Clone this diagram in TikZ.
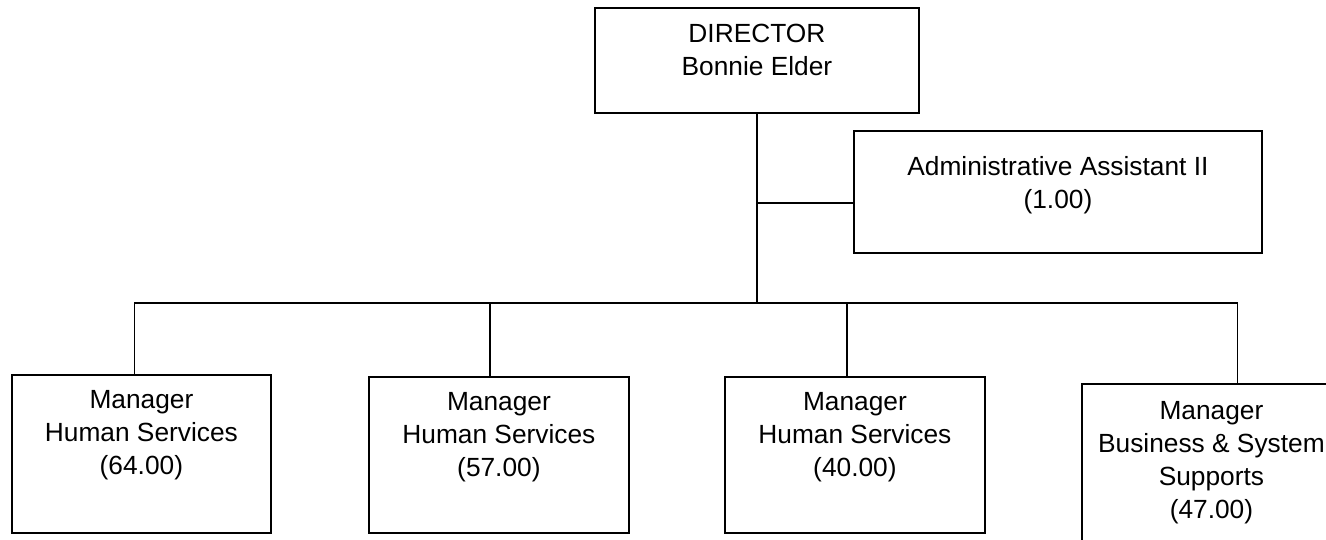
\documentclass[tikz,border=0pt]{standalone}
\usepackage{fontspec}
\setmainfont{Liberation Sans}
\begin{document}
\begin{tikzpicture}[x=0.5pt,y=-0.5pt,
  box/.style={draw, line width=0.9pt, inner sep=0pt, anchor=north west},
  lbl/.style={anchor=north, align=center, inner sep=0pt, font=\fontsize{13.15}{16.5}\selectfont},
  conn/.style={line width=0.9pt}]
\useasboundingbox (0,0) rectangle (1326,540);
\clip (0,0) rectangle (1326,540);
% boxes
\node[box, minimum width=162pt, minimum height=52.5pt] (dir) at (594,7) {};
\node[box, minimum width=204pt, minimum height=61pt] (adm) at (853,130) {};
\node[box, minimum width=129.5pt, minimum height=79pt] (m1) at (11,374) {};
\node[box, minimum width=130pt, minimum height=78pt] (m2) at (368,376) {};
\node[box, minimum width=130pt, minimum height=78pt] (m3) at (724,376) {};
\node[box, minimum width=129.5pt, minimum height=85pt] (m4) at (1081,383) {};
% texts
\node[lbl] (tdir) at ([yshift=-8.3pt]dir.north) {DIRECTOR\\Bonnie Elder};
\node[lbl] (tadm) at ([yshift=-12.8pt]adm.north) {Administrative Assistant II\\(1.00)};
\node[lbl] (tm1) at ([yshift=-8pt]m1.north) {Manager\\Human Services\\(64.00)};
\node[lbl] (tm2) at ([yshift=-8pt]m2.north) {Manager\\Human Services\\(57.00)};
\node[lbl] (tm3) at ([yshift=-8pt]m3.north) {Manager\\Human Services\\(40.00)};
\node[lbl] (tm4) at ([yshift=-8.8pt]m4.north) {Manager\\Business \& System\\Supports\\(47.00)};
% connectors
\coordinate (bus) at (dir.south |- 0,303);
\coordinate (d1) at ([xshift=-3.5pt]m1.north);
\coordinate (d2) at ([xshift=-4.5pt]m2.north);
\coordinate (d3) at ([xshift=-4pt]m3.north);
\coordinate (d4) at ([xshift=13pt]m4.north);
\coordinate (aj) at ([yshift=-5.5pt]adm.west);
\draw[conn] (dir.south) -- (bus);
\draw[conn] (dir.south |- aj) -- (aj);
\draw[conn] (d1) -- (d1 |- bus) -- (d4 |- bus) -- (d4);
\draw[conn] (d2) -- (d2 |- bus);
\draw[conn] (d3) -- (d3 |- bus);
\end{tikzpicture}
\end{document}
